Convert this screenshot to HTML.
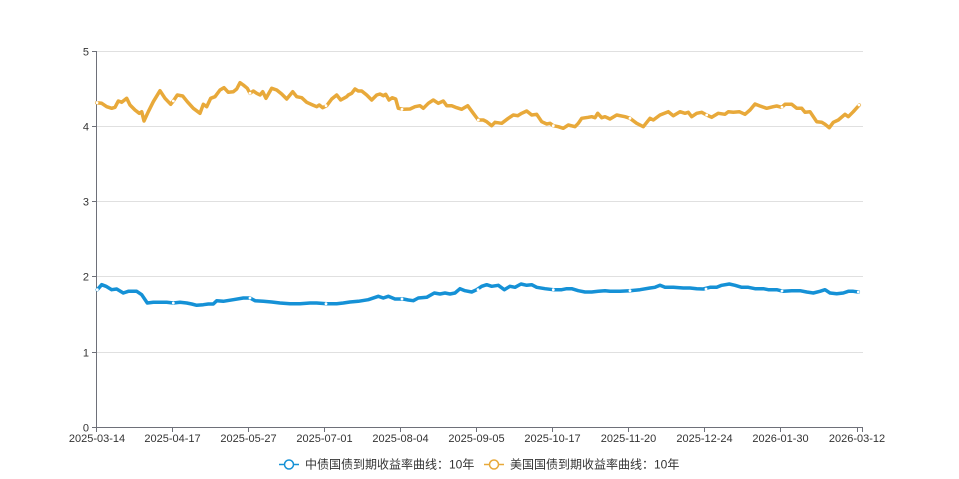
<!DOCTYPE html>
<html><head><meta charset="utf-8">
<style>
html,body{margin:0;padding:0;background:#fff;}
svg{display:block;}
text{font-family:"Liberation Sans","Noto Sans CJK SC",sans-serif;}
</style></head>
<body>
<svg width="959" height="479" viewBox="0 0 959 479" xmlns="http://www.w3.org/2000/svg">
<rect width="959" height="479" fill="#fff"/>
<g stroke="#e0e0e0" stroke-width="1">
<line x1="96.5" y1="51.5" x2="863" y2="51.5"/>
<line x1="96.5" y1="126.5" x2="863" y2="126.5"/>
<line x1="96.5" y1="201.5" x2="863" y2="201.5"/>
<line x1="96.5" y1="276.5" x2="863" y2="276.5"/>
<line x1="96.5" y1="352.5" x2="863" y2="352.5"/>
</g>
<g stroke="#6e7079" stroke-width="1">
<line x1="96.5" y1="51" x2="96.5" y2="427"/>
<line x1="96.5" y1="427.5" x2="863" y2="427.5"/>
<line x1="92" y1="51.5" x2="96.5" y2="51.5"/>
<line x1="92" y1="126.5" x2="96.5" y2="126.5"/>
<line x1="92" y1="201.5" x2="96.5" y2="201.5"/>
<line x1="92" y1="276.5" x2="96.5" y2="276.5"/>
<line x1="92" y1="352.5" x2="96.5" y2="352.5"/>
<line x1="92" y1="427.5" x2="96.5" y2="427.5"/>
<line x1="96.5" y1="427" x2="96.5" y2="432"/>
<line x1="172.5" y1="427" x2="172.5" y2="432"/>
<line x1="248.5" y1="427" x2="248.5" y2="432"/>
<line x1="324.5" y1="427" x2="324.5" y2="432"/>
<line x1="400.5" y1="427" x2="400.5" y2="432"/>
<line x1="476.5" y1="427" x2="476.5" y2="432"/>
<line x1="552.5" y1="427" x2="552.5" y2="432"/>
<line x1="628.5" y1="427" x2="628.5" y2="432"/>
<line x1="704.5" y1="427" x2="704.5" y2="432"/>
<line x1="780.5" y1="427" x2="780.5" y2="432"/>
<line x1="857.5" y1="427" x2="857.5" y2="432"/>
<line x1="862.5" y1="427" x2="862.5" y2="432"/>
</g>
<g fill="#333" font-size="11" text-anchor="end">
<text x="89" y="55.5">5</text>
<text x="89" y="130.5">4</text>
<text x="89" y="205.5">3</text>
<text x="89" y="280.5">2</text>
<text x="89" y="356.5">1</text>
<text x="89" y="431.5">0</text>
</g>
<g fill="#333" font-size="11" text-anchor="middle">
<text x="97" y="442">2025-03-14</text>
<text x="172.5" y="442">2025-04-17</text>
<text x="248.5" y="442">2025-05-27</text>
<text x="324.5" y="442">2025-07-01</text>
<text x="400.5" y="442">2025-08-04</text>
<text x="476.5" y="442">2025-09-05</text>
<text x="552.5" y="442">2025-10-17</text>
<text x="628.5" y="442">2025-11-20</text>
<text x="704.5" y="442">2025-12-24</text>
<text x="780.5" y="442">2026-01-30</text>
<text x="857" y="442">2026-03-12</text>
</g>
<polyline fill="none" stroke="#e8a93a" stroke-width="3.5" stroke-linejoin="round" stroke-linecap="round" points="
96.7,102.7 101.7,103.3 106.7,106.7 111.7,108.3 115,107.3 118.3,101 121.7,102.3 126.7,98.3 130,105 135,110 139.3,113.3 141.7,111.7 144,121 148.3,111.7 153.3,101.7 160,90.7 165,98.3 170.7,104.3 173.3,101 177.3,95 182.7,96 187.3,101.7 193.3,108.3 200,113.3 203.3,104.3 206.7,106.7 210.7,98.3 215,96.7 220,90 224,87.7 228.3,92.3 233.3,91.7 236.7,89 240,82.7 243.3,85 247.3,88.3 250,93.3 253.3,91 256.7,93.3 260,95 262.7,91.7 266,98.3 271.7,88.3 276.7,90 281.7,94 286.7,99 292.7,91.7 296.7,96.7 301.7,97.7 306.7,102.3 312.7,105 316.7,106.7 319.3,105 322.7,107.7 326.7,105.7 331.7,99 336.7,95 340.7,100 346.7,96.7 348.3,95 351.7,93.3 355,89 358.3,91 361.7,91 366.7,95 371.7,100 376.7,95 380,94 383.3,95.7 385.7,94.3 389,100 392.3,97.7 395.7,99 398.3,108.3 403.3,109.3 410,109 415,106.7 420,105.7 423.3,108.3 428.3,103.3 433.3,100 438.3,103.3 443.3,101 446.7,105.7 451.7,105.7 456.7,107.7 461.7,109.3 467.7,105.7 473.3,113.3 478.3,120 483.3,120 486.7,121.7 491.7,125.7 495,122.3 501.7,123.3 508.3,118.3 513.3,115 517.7,115.7 521.7,113.3 526.7,111 531.7,115 536.7,114.3 541.7,121.7 546.7,124 550,123.3 553.3,125.7 558.3,126.7 563.3,128.3 568.3,125 575,126.7 578.3,123.3 581.7,118.3 588.3,117.3 591.7,116.7 595,117.7 597.7,113.3 601.7,117.7 605,116.7 610,119 616.7,115 625,116.7 630,118.3 636.7,123.3 643.3,126.7 650,118.3 653.3,120 660,115 668.3,111.7 673.3,115.7 680,111.7 685,113.3 688.3,112.3 691.7,116.7 696.7,113.3 701.7,112.3 706.7,115 711.7,117.3 718.3,113.3 725,114.3 728.3,111.7 733.3,112.3 739.3,111.7 745,114.3 750,110 755,104 760,106 766.7,108.3 773.3,106.7 776.7,106 781.7,107.3 785,104.3 791.7,104.3 796.7,108.3 801.7,108.3 805,112.3 810,111.7 816.7,121.7 821.7,122.3 825,124.3 829.3,127.7 833.3,122.3 838.3,120 845,114.3 848.3,116.7 853.3,111.7 859.3,105"/>
<polyline fill="none" stroke="#1591d6" stroke-width="3.5" stroke-linejoin="round" stroke-linecap="round" points="
97.3,289.7 101.7,284.7 106,286.3 111.7,289.7 116.7,289 123.3,293 128.3,291.3 136.7,291.3 141.7,294.7 147.3,303 153.3,302.3 160,302.3 166.7,302.3 173.3,303 180,302.3 186.7,303 191.7,304 196.7,305.3 203.3,304.7 208.3,304 213.3,304 216.7,300.7 223.3,301.3 233.3,299.7 243.3,298 250,298 255,300.7 263.3,301.3 271.7,302 280,303 290,303.7 300,303.7 310,303 316.7,303 326.7,303.7 336.7,303.7 343.3,303 350,302 358.3,301.3 368.3,299.7 378.3,296.3 383.3,298 388.3,296.3 395,299 403.3,299 408.3,300 413.3,300.7 418.3,298 426.7,297.3 434.3,293 440,294 445,293 450,294 455,293 460,288.7 465,290.7 471.7,292 476.7,289.7 481.7,286.3 486.7,284.7 491.7,286.3 498.3,285.3 504.3,289.7 510,286.3 515,287.3 521,284 526.7,285.3 531.7,284.7 536.7,287.3 545,288.7 553.3,289.7 561.7,289.7 566.7,288.7 571.7,288.7 578.3,290.7 585,292 591.7,292 598.3,291.3 605,290.7 610,291.3 620,291.3 630,290.7 640,289.7 650,288 655,287.3 660,285.3 665,287.3 673.3,287.3 683.3,288 690,288 696.7,288.7 703.3,289 710,287.3 716.7,287.3 721.7,285.3 729.3,284 735,285.3 741.7,287.3 748.3,287.3 755,288.7 763.3,288.7 768.3,289.7 776.7,289.7 783.3,291.3 791.7,290.7 800,290.7 806.7,292 813.3,293 820,291.3 825,289.7 830,293 836.7,293.7 843.3,293 848.3,291.3 853.3,291.3 858.3,292"/>
<g fill="#fff">
<circle cx="97" cy="102.7" r="1.4"/><circle cx="173.3" cy="101" r="1.4"/><circle cx="250" cy="93.3" r="1.4"/><circle cx="326" cy="105.7" r="1.4"/><circle cx="402" cy="109.3" r="1.4"/><circle cx="478.3" cy="120" r="1.4"/><circle cx="553.3" cy="125.7" r="1.4"/><circle cx="630" cy="118.3" r="1.4"/><circle cx="706.7" cy="115" r="1.4"/><circle cx="782" cy="107.3" r="1.4"/><circle cx="859" cy="105" r="1.4"/>
<circle cx="97.3" cy="289.7" r="1.4"/><circle cx="173.3" cy="303" r="1.4"/><circle cx="250" cy="298" r="1.4"/><circle cx="326" cy="303.7" r="1.4"/><circle cx="402" cy="299" r="1.4"/><circle cx="478" cy="289.7" r="1.4"/><circle cx="553.3" cy="289.7" r="1.4"/><circle cx="630" cy="290.7" r="1.4"/><circle cx="706" cy="289" r="1.4"/><circle cx="782" cy="291" r="1.4"/><circle cx="858.3" cy="292" r="1.4"/>
</g>
<g>
<line x1="279" y1="464.5" x2="299" y2="464.5" stroke="#1591d6" stroke-width="1.5"/>
<circle cx="289" cy="464.5" r="4.5" fill="#fff" stroke="#1591d6" stroke-width="1.5"/>
<text x="305" y="468.5" font-size="12" fill="#333">中债国债到期收益率曲线：10年</text>
<line x1="484" y1="464.5" x2="504" y2="464.5" stroke="#e8a93a" stroke-width="1.5"/>
<circle cx="494" cy="464.5" r="4.5" fill="#fff" stroke="#e8a93a" stroke-width="1.5"/>
<text x="510" y="468.5" font-size="12" fill="#333">美国国债到期收益率曲线：10年</text>
</g>
</svg>
</body></html>
